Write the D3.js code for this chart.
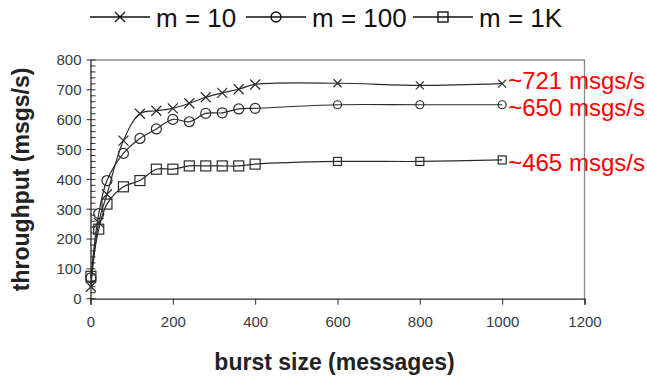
<!DOCTYPE html>
<html>
<head>
<meta charset="utf-8">
<title>throughput vs burst size</title>
<style>
  body { margin: 0; background: #fff; }
  svg text { font-family: "Liberation Sans", Arial, sans-serif; }
</style>
</head>
<body>
<script src="https://cdn.jsdelivr.net/npm/d3@7"></script>
<script>
// data
var burstSizes = [1, 20, 40, 80, 120, 160, 200, 240, 280, 320, 360, 400, 600, 800, 1000];
var m10  = [40, 255, 350, 530, 620, 630, 638, 655, 675, 690, 702, 718, 722, 715, 721];
var m100 = [70, 285, 396, 487, 537, 569, 601, 593, 621, 623, 636, 638, 650, 650, 650];
var m1k  = [75, 233, 317, 375, 396, 434, 434, 445, 445, 445, 445, 451, 460, 460, 465];
var seriesNames = ["m = 10", "m = 100", "m = 1K"];
var markerTypes = ["x", "circle", "square"];
var xTicks = [0, 200, 400, 600, 800, 1000, 1200];
var yTicks = [0, 100, 200, 300, 400, 500, 600, 700, 800];
var notes = ["~721 msgs/s", "~650 msgs/s", "~465 msgs/s"];

var width = 647, height = 377;
var pLeft = 90.5, pRight = 584.5, pTop = 60, pBottom = 298.7;
var ink = "#2b2b2b";

var svg = d3.select("body").append("svg")
    .attr("width", width)
    .attr("height", height);

var x = d3.scaleLinear().domain([0, 1200]).range([pLeft, pRight]);
var y = d3.scaleLinear().domain([0, 800]).range([pBottom, pTop]);

// frame (top + right)
svg.append("path")
    .attr("d", "M" + pLeft + "," + pTop + "H" + pRight + "V" + pBottom)
    .attr("fill", "none")
    .attr("stroke", "#8a8a8a")
    .attr("stroke-width", 1.3);

// y axis
var yAxis = svg.append("g").attr("transform", "translate(" + pLeft + ",0)")
    .call(d3.axisLeft(y).tickValues(yTicks).tickFormat(d3.format("d")).tickSize(0).tickPadding(9));
yAxis.select(".domain").attr("stroke", ink).attr("stroke-width", 1.3);
yAxis.selectAll("text").attr("font-size", 15).attr("fill", "#3a3a3a");
// minor ticks every 20
svg.append("g").selectAll("line")
    .data(d3.range(0, 801, 20))
    .enter().append("line")
    .attr("x1", function (d) { return d % 100 == 0 ? pLeft - 4 : pLeft; })
    .attr("x2", pLeft + 5)
    .attr("y1", function (d) { return y(d); })
    .attr("y2", function (d) { return y(d); })
    .attr("stroke", ink)
    .attr("stroke-width", 1);

// x axis
var xAxis = svg.append("g").attr("transform", "translate(0," + pBottom + ")")
    .call(d3.axisBottom(x).tickValues(xTicks).tickFormat(d3.format("d")).tickSize(6).tickPadding(12));
xAxis.select(".domain").attr("stroke", ink).attr("stroke-width", 1.3);
xAxis.selectAll("line").attr("stroke", ink);
xAxis.selectAll("text").attr("font-size", 15).attr("fill", "#3a3a3a");

// axis titles
svg.append("text")
    .attr("x", (pLeft + pRight) / 2 - 3)
    .attr("y", 370)
    .attr("text-anchor", "middle")
    .attr("font-size", 23)
    .attr("font-weight", "bold")
    .attr("fill", "#222")
    .text("burst size (messages)");
svg.append("text")
    .attr("transform", "translate(29," + ((pTop + pBottom) / 2) + ") rotate(-90)")
    .attr("text-anchor", "middle")
    .attr("font-size", 23)
    .attr("font-weight", "bold")
    .attr("fill", "#222")
    .text("throughput (msgs/s)");

var allSeries = [m10, m100, m1k];

function drawMarker(g, type, cx, cy, s) {
    if (type == "x") {
        g.append("path")
            .attr("d", "M" + (cx - s) + "," + (cy - s) + "L" + (cx + s) + "," + (cy + s) +
                       "M" + (cx - s) + "," + (cy + s) + "L" + (cx + s) + "," + (cy - s));
    } else if (type == "circle") {
        g.append("circle").attr("cx", cx).attr("cy", cy).attr("r", s);
    } else {
        g.append("rect").attr("x", cx - s).attr("y", cy - s).attr("width", 2 * s).attr("height", 2 * s);
    }
}

var line = d3.line()
    .x(function (d) { return x(d[0]); })
    .y(function (d) { return y(d[1]); })
    .curve(d3.curveCatmullRom.alpha(0.5));

allSeries.forEach(function (vals, i) {
    var pts = burstSizes.map(function (b, j) { return [b, vals[j]]; });
    svg.append("path")
        .attr("d", line(pts))
        .attr("fill", "none")
        .attr("stroke", ink)
        .attr("stroke-width", 1.2);
    var mg = svg.append("g")
        .attr("fill", "none")
        .attr("stroke", ink)
        .attr("stroke-width", 1.2);
    pts.forEach(function (p) {
        // markers past 400 are drawn a bit smaller in the original
        drawMarker(mg, markerTypes[i], x(p[0]), y(p[1]), p[0] > 400 ? 4 : 5);
    });
});

// red annotations at line ends
var noteDy = [5, 11, 11];
allSeries.forEach(function (vals, i) {
    svg.append("text")
        .attr("x", x(1000) + 6)
        .attr("y", y(vals[vals.length - 1]) + noteDy[i])
        .attr("font-size", 24)
        .attr("fill", "#ff0000")
        .text(notes[i]);
});

// legend
var legendLineX = [90, 246, 413];
var legend = svg.append("g");
seriesNames.forEach(function (name, i) {
    var lx = legendLineX[i];
    legend.append("line")
        .attr("x1", lx).attr("x2", lx + 60)
        .attr("y1", 17).attr("y2", 17)
        .attr("stroke", "#111")
        .attr("stroke-width", 1.6);
    var mg = legend.append("g")
        .attr("fill", "none")
        .attr("stroke", "#111")
        .attr("stroke-width", 1.4);
    drawMarker(mg, markerTypes[i], lx + 30, 17, 5);
    legend.append("text")
        .attr("x", lx + 66)
        .attr("y", 27)
        .attr("font-size", 26)
        .attr("fill", "#111")
        .text(name);
});
</script>
</body>
</html>
